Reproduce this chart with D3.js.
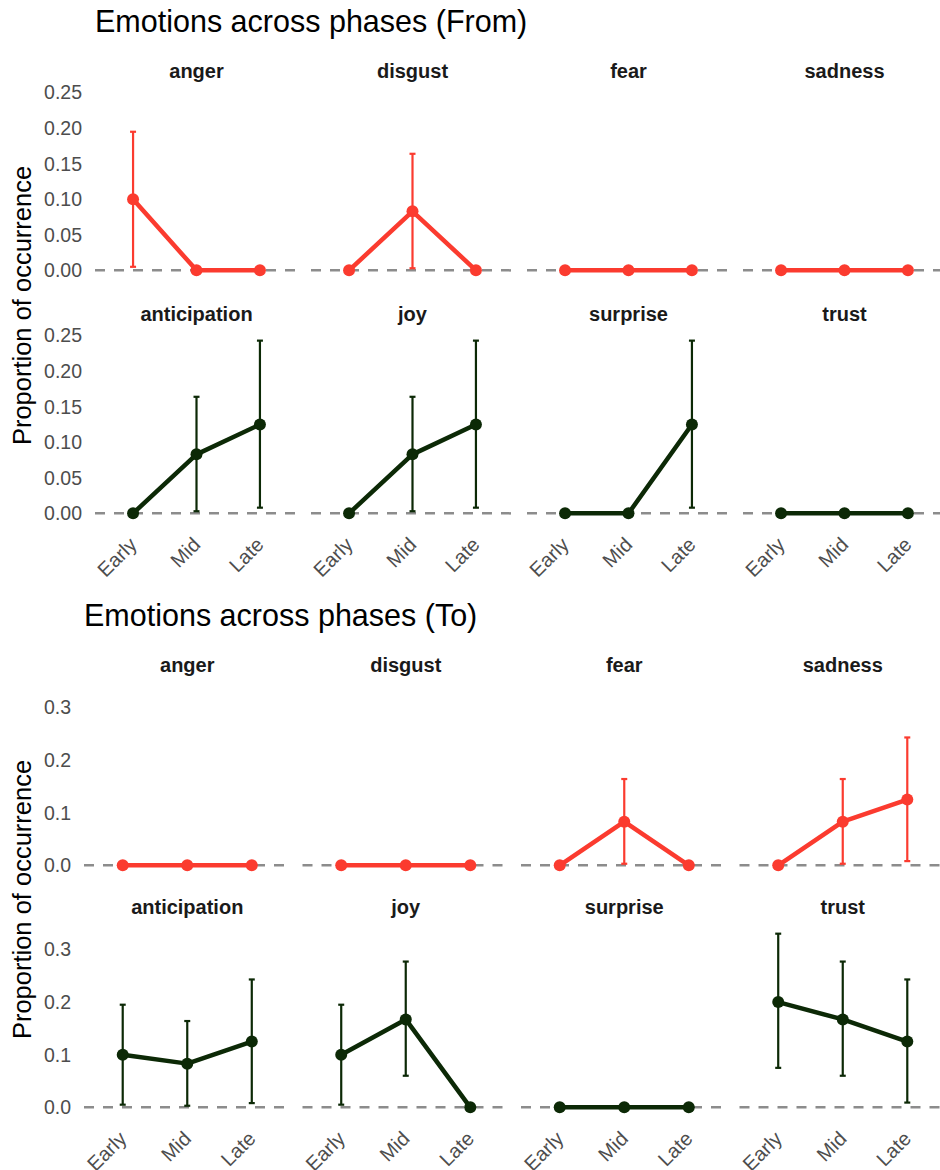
<!DOCTYPE html>
<html>
<head>
<meta charset="utf-8">
<script src="https://cdn.jsdelivr.net/npm/d3@7"></script>
<style>
  body { margin: 0; background: #fff; }
  svg { display: block; font-family: "Liberation Sans", Arial, sans-serif; }
</style>
</head>
<body>
<div id="chart"></div>
<script>
// ---------- data ----------
const phases = ['Early', 'Mid', 'Late'];
const negEmotions = ['anger', 'disgust', 'fear', 'sadness'];
const posEmotions = ['anticipation', 'joy', 'surprise', 'trust'];

// "From" chart: value, lower, upper per phase
const fromValues = {
  anger:        [0.100, 0, 0],
  disgust:      [0, 0.083, 0],
  fear:         [0, 0, 0],
  sadness:      [0, 0, 0],
  anticipation: [0, 0.083, 0.125],
  joy:          [0, 0.083, 0.125],
  surprise:     [0, 0, 0.125],
  trust:        [0, 0, 0]
};
const fromLower = {
  anger:        [0.005, null, null],
  disgust:      [null, 0.003, null],
  fear:         [null, null, null],
  sadness:      [null, null, null],
  anticipation: [null, 0.003, 0.008],
  joy:          [null, 0.003, 0.008],
  surprise:     [null, null, 0.008],
  trust:        [null, null, null]
};
const fromUpper = {
  anger:        [0.195, null, null],
  disgust:      [null, 0.164, null],
  fear:         [null, null, null],
  sadness:      [null, null, null],
  anticipation: [null, 0.164, 0.243],
  joy:          [null, 0.164, 0.243],
  surprise:     [null, null, 0.243],
  trust:        [null, null, null]
};

// "To" chart
const toValues = {
  anger:        [0, 0, 0],
  disgust:      [0, 0, 0],
  fear:         [0, 0.083, 0],
  sadness:      [0, 0.083, 0.125],
  anticipation: [0.100, 0.083, 0.125],
  joy:          [0.100, 0.167, 0],
  surprise:     [0, 0, 0],
  trust:        [0.200, 0.167, 0.125]
};
const toLower = {
  anger:        [null, null, null],
  disgust:      [null, null, null],
  fear:         [null, 0.003, null],
  sadness:      [null, 0.003, 0.008],
  anticipation: [0.005, 0.003, 0.008],
  joy:          [0.005, 0.060, null],
  surprise:     [null, null, null],
  trust:        [0.075, 0.060, 0.009]
};
const toUpper = {
  anger:        [null, null, null],
  disgust:      [null, null, null],
  fear:         [null, 0.164, null],
  sadness:      [null, 0.164, 0.243],
  anticipation: [0.195, 0.164, 0.243],
  joy:          [0.195, 0.277, null],
  surprise:     [null, null, null],
  trust:        [0.330, 0.277, 0.243]
};

const fromTicks = [0, 0.05, 0.10, 0.15, 0.20, 0.25];
const toTicks = [0, 0.1, 0.2, 0.3];

const colorNeg = '#fb3b2f';
const colorPos = '#0c2906';

// ---------- drawing ----------
const W = 940, H = 1170;
const svg = d3.select('#chart').append('svg')
  .attr('width', W)
  .attr('height', H);

function drawChart(opt) {
  const g = svg.append('g');
  const rowsEm = [negEmotions, posEmotions];

  // shared y domain, 5% expansion like ggplot
  let ymax = 0;
  [...negEmotions, ...posEmotions].forEach((e) => {
    opt.values[e].forEach((v, i) => {
      ymax = Math.max(ymax, v, opt.upper[e][i] || 0);
    });
  });
  const pad = ymax * 0.05;

  // title
  g.append('text')
    .attr('x', opt.left)
    .attr('y', opt.titleY)
    .attr('font-size', 30.5)
    .attr('fill', '#000')
    .text(opt.title);

  // y axis title
  g.append('text')
    .attr('transform', `translate(31,${(opt.rowTops[0] + opt.rowTops[1] + opt.panelH) / 2}) rotate(-90)`)
    .attr('text-anchor', 'middle')
    .attr('font-size', 25.5)
    .attr('fill', '#000')
    .text('Proportion of occurrence');

  rowsEm.forEach((emos, r) => {
    const top = opt.rowTops[r];
    const y = d3.scaleLinear()
      .domain([-pad, ymax + pad])
      .range([top + opt.panelH, top]);

    const fx = d3.scaleBand()
      .domain(emos)
      .range([opt.left, opt.right])
      .paddingInner(opt.gap / ((opt.right - opt.left - 3 * opt.gap) / 4 + opt.gap));

    // y tick labels (only on left)
    g.append('g').selectAll('text')
      .data(opt.ticks)
      .enter()
      .append('text')
      .attr('x', opt.left - 13)
      .attr('y', (d) => y(d))
      .attr('dy', '0.35em')
      .attr('text-anchor', 'end')
      .attr('font-size', 19.5)
      .attr('fill', '#4d4d4d')
      .text((d) => d3.format(opt.fmt)(d));

    emos.forEach((emo) => {
      const x = d3.scalePoint()
        .domain(phases)
        .range([fx(emo), fx(emo) + fx.bandwidth()])
        .padding(0.6);
      const color = r === 0 ? colorNeg : colorPos;
      const pg = g.append('g');

      // strip label
      pg.append('text')
        .attr('x', fx(emo) + fx.bandwidth() / 2)
        .attr('y', top - 11)
        .attr('text-anchor', 'middle')
        .attr('font-size', 20)
        .attr('font-weight', 'bold')
        .attr('fill', '#1a1a1a')
        .text(emo);

      // dashed zero line
      pg.append('line')
        .attr('x1', fx(emo))
        .attr('x2', fx(emo) + fx.bandwidth())
        .attr('y1', y(0))
        .attr('y2', y(0))
        .attr('stroke', '#8c8c8c')
        .attr('stroke-width', 2.5)
        .attr('stroke-dasharray', '10,9');

      const pts = phases.map((p, i) => ({
        p, v: opt.values[emo][i], lo: opt.lower[emo][i], hi: opt.upper[emo][i]
      }));

      // line
      pg.append('path')
        .datum(pts)
        .attr('fill', 'none')
        .attr('stroke', color)
        .attr('stroke-width', 4.5)
        .attr('stroke-linejoin', 'round')
        .attr('d', d3.line().x((d) => x(d.p)).y((d) => y(d.v)));

      // error bars
      const eb = pg.selectAll('.eb')
        .data(pts.filter((d) => d.hi !== null))
        .enter()
        .append('g')
        .attr('class', 'eb')
        .attr('stroke', color)
        .attr('stroke-width', 2.2);
      eb.append('line')
        .attr('x1', (d) => x(d.p)).attr('x2', (d) => x(d.p))
        .attr('y1', (d) => y(d.lo)).attr('y2', (d) => y(d.hi));
      eb.append('line')
        .attr('x1', (d) => x(d.p) - 3).attr('x2', (d) => x(d.p) + 3)
        .attr('y1', (d) => y(d.lo)).attr('y2', (d) => y(d.lo));
      eb.append('line')
        .attr('x1', (d) => x(d.p) - 3).attr('x2', (d) => x(d.p) + 3)
        .attr('y1', (d) => y(d.hi)).attr('y2', (d) => y(d.hi));

      // points
      pg.selectAll('circle')
        .data(pts)
        .enter()
        .append('circle')
        .attr('cx', (d) => x(d.p))
        .attr('cy', (d) => y(d.v))
        .attr('r', 6)
        .attr('fill', color);

      // x tick labels (bottom row only)
      if (r === 1) {
        pg.selectAll('.xt')
          .data(phases)
          .enter()
          .append('text')
          .attr('class', 'xt')
          .attr('transform', (d) => `translate(${x(d) + 5},${top + opt.panelH + 24}) rotate(-45)`)
          .attr('text-anchor', 'end')
          .attr('font-size', 20)
          .attr('fill', '#4d4d4d')
          .text((d) => d);
      }
    });
  });
}

drawChart({
  title: 'Emotions across phases (From)',
  values: fromValues, lower: fromLower, upper: fromUpper,
  ticks: fromTicks, fmt: '.2f',
  left: 95, right: 946, gap: 13,
  titleY: 32, rowTops: [89, 332], panelH: 190
});

drawChart({
  title: 'Emotions across phases (To)',
  values: toValues, lower: toLower, upper: toUpper,
  ticks: toTicks, fmt: '.1f',
  left: 84, right: 946, gap: 12,
  titleY: 626, rowTops: [683, 925], panelH: 191
});
</script>
</body>
</html>
